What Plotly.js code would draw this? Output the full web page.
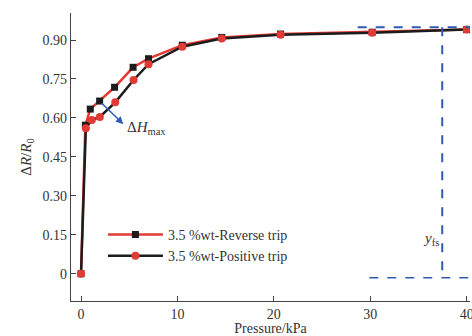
<!DOCTYPE html>
<html><head><meta charset="utf-8">
<script src="https://cdn.plot.ly/plotly-3.0.1.min.js"></script>
<style>html,body{margin:0;padding:0;background:#fff}#chart{width:472px;height:336px}</style>
</head><body><div id="chart"></div>
<script>
const pressureRev = [0, 0.45, 0.96, 1.93, 3.48, 5.4, 7.0, 10.5, 14.6, 20.7, 30.2, 40];
const reverseTrip = [0, 0.572, 0.634, 0.665, 0.718, 0.795, 0.828, 0.88, 0.91, 0.923, 0.93, 0.94];
const pressurePos = [0, 0.5, 1.12, 1.95, 3.55, 5.45, 7.0, 10.5, 14.6, 20.7, 30.2, 40];
const positiveTrip = [0, 0.56, 0.592, 0.604, 0.66, 0.746, 0.807, 0.874, 0.906, 0.92, 0.928, 0.94];
const xTicks = [0, 10, 20, 30, 40];
const yTicks = [0, 0.15, 0.30, 0.45, 0.60, 0.75, 0.90];
const yTickText = ['0', '0.15', '0.30', '0.45', '0.60', '0.75', '0.90'];
const legendNames = ['3.5 %wt-Reverse trip', '3.5 %wt-Positive trip'];

const RED = '#e23a35', BLACK = '#1c1c1c', BLUE = '#2f5bb5';
const FAM = 'Liberation Serif';
const font = {family: FAM, size: 14, color: '#333'};

const traces = [
  {x: pressureRev, y: reverseTrip, name: legendNames[0], type: 'scatter', mode: 'lines+markers',
   line: {color: RED, width: 2.5}, marker: {symbol: 'square', size: 7, color: BLACK}},
  {x: pressurePos, y: positiveTrip, name: legendNames[1], type: 'scatter', mode: 'lines+markers',
   line: {color: BLACK, width: 2.5}, marker: {symbol: 'circle', size: 8, color: RED}}
];

const layout = {
  width: 472, height: 336,
  margin: {l: 71, r: 2, t: 13, b: 35},
  paper_bgcolor: '#fff', plot_bgcolor: '#fff',
  font: font,
  showlegend: true,
  legend: {x: 0.08, y: 0.285, xanchor: 'left', yanchor: 'top', bgcolor: 'rgba(0,0,0,0)',
           font: {family: FAM, size: 14, color: '#333'}, itemwidth: 55, tracegroupgap: 0},
  xaxis: {range: [-1.04, 40.35], tickvals: xTicks, ticks: 'inside', ticklen: 5, tickcolor: '#444',
          showline: true, linecolor: '#444', linewidth: 1.3, showgrid: false, zeroline: false,
          ticklabeloverflow: 'allow',
          tickfont: font, title: {text: 'Pressure/kPa', font: {family: FAM, size: 14, color: '#333'}, standoff: 1}},
  yaxis: {range: [-0.105, 1.004], tickvals: yTicks, ticktext: yTickText, ticks: 'inside', ticklen: 5, tickcolor: '#444',
          showline: true, linecolor: '#444', linewidth: 1.3, showgrid: false, zeroline: false,
          tickfont: font, title: {text: 'Δ<i>R</i>/<i>R</i><sub>0</sub>', font: {family: FAM, size: 15, color: '#333'}, standoff: 7}},
  shapes: [
    {type: 'line', xref: 'x', yref: 'y', x0: 28.7, x1: 40.5, y0: 0.949, y1: 0.949, line: {color: BLUE, width: 2, dash: 'dash'}},
    {type: 'line', xref: 'x', yref: 'y', x0: 37.47, x1: 37.47, y0: 0.949, y1: -0.015, line: {color: BLUE, width: 2, dash: 'dash'}},
    {type: 'line', xref: 'x', yref: 'y', x0: 29.9, x1: 40.5, y0: -0.015, y1: -0.015, line: {color: BLUE, width: 1.5, dash: 'dash'}}
  ],
  annotations: [
    {x: 4.39, y: 0.576, ax: 2.0, ay: 0.662, axref: 'x', ayref: 'y', xref: 'x', yref: 'y', text: '', showarrow: true,
     arrowhead: 2, arrowsize: 1, arrowwidth: 1.5, arrowcolor: BLUE},
    {x: 4.6, y: 0.56, xref: 'x', yref: 'y', xanchor: 'left', yanchor: 'middle', showarrow: false,
     text: 'Δ<i>H</i><sub>max</sub>', font: {family: FAM, size: 15, color: '#333'}},
    {x: 37.3, y: 0.133, xref: 'x', yref: 'y', xanchor: 'right', yanchor: 'middle', showarrow: false,
     text: '<i>y</i><sub>fs</sub>', font: {family: FAM, size: 15, color: '#333'}}
  ]
};

Plotly.newPlot('chart', traces, layout, {displayModeBar: false, staticPlot: true});
</script></body></html>
